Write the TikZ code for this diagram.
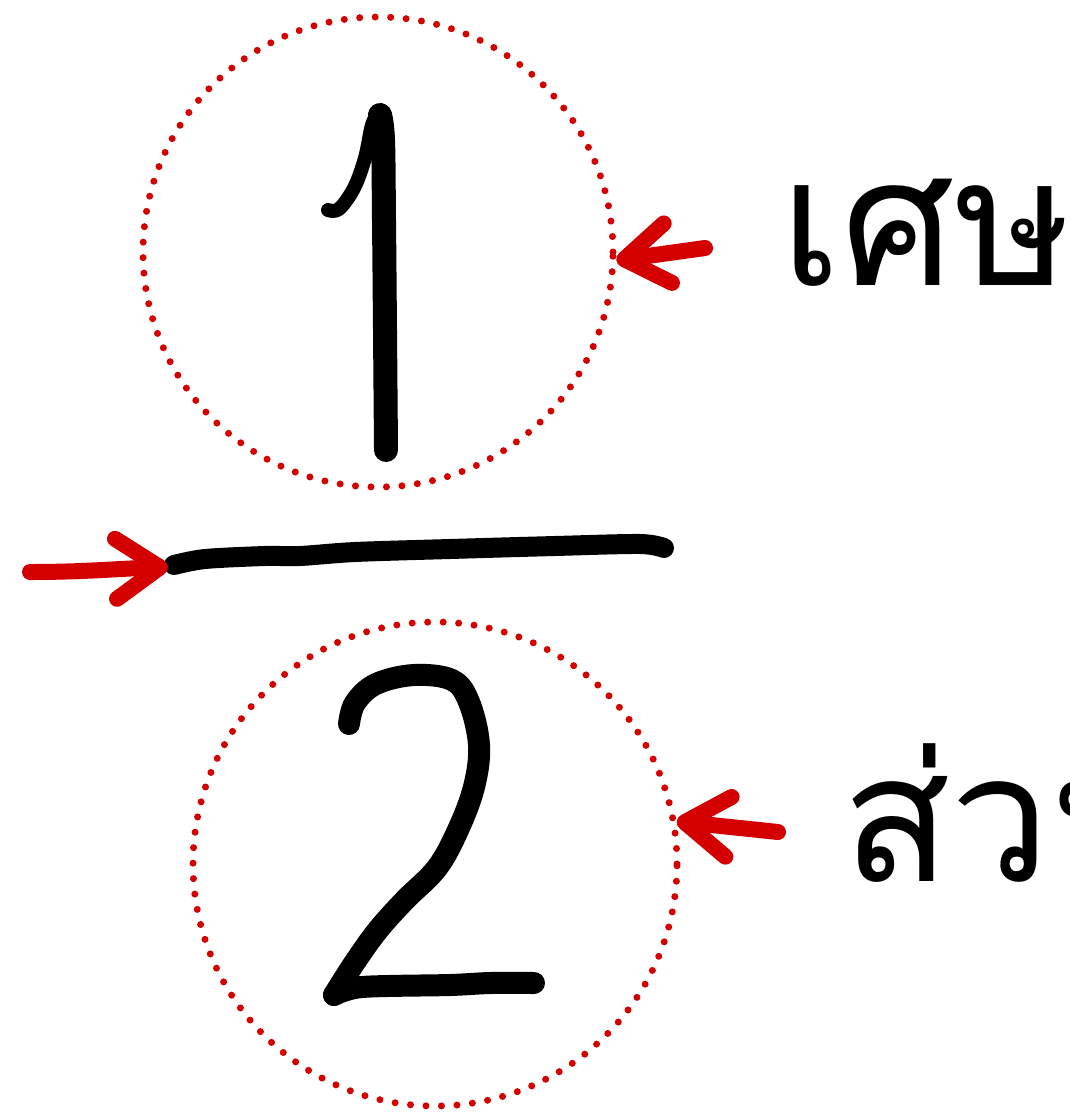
\documentclass[tikz,border=0pt]{standalone}
\usepackage{fontspec}
\newfontfamily\thaifont[Script=Thai]{Loma}
\usetikzlibrary{arrows.meta}
\definecolor{bg}{HTML}{FFFFFF}
\definecolor{ink}{HTML}{000000}
\definecolor{mark}{HTML}{D40000}

\begin{document}
\begin{tikzpicture}[x=1pt,y=-1pt,
  pen/.style={draw=ink,line width=22pt,line cap=round,line join=round},
  ring/.style={circle,draw=mark,line width=7pt,line cap=round,dash pattern=on 0pt off 15.5pt,inner sep=0pt},
  pointer/.style={draw=mark,line width=16pt,line cap=round,line join=round,-{Straight Barb[round,length=44pt,width=60pt]}},
  thailbl/.style={font=\thaifont\fontsize{178}{178}\selectfont,text=ink,inner sep=0pt,anchor=base west}]
  \useasboundingbox (0,0) rectangle (1070,1112);
  \clip (0,0) rectangle (1070,1112);
  \fill[bg] (0,0) rectangle (1070,1112);

  % ===== rings =====
  \node[ring,minimum size=470pt] (numring) at (378,252) {};
  \node[ring,minimum size=484pt] (denring) at (435,864) {};

  % ===== hand-drawn 1, bar and 2 =====
  \draw[pen,line width=14pt] plot[smooth,tension=0.6] coordinates {(328,210) (339,209) (354,188) (365,158) (372,125) (379,112)};
  \draw[pen,line width=24pt] plot[smooth,tension=0.6] coordinates {(380,115) (383,140) (384,220) (385,330) (386,450)};
  \draw[pen,line width=20pt] plot[smooth,tension=0.5] coordinates {(174,565) (205,559) (265,556) (300,556) (355,552) (450,549) (555,546) (640,544) (664,548)};
  \coordinate (barstart) at (168,567);
  \draw[pen] plot[smooth,tension=0.6] coordinates {(349,724) (355,703) (376,684) (414,675) (452,680) (469,702) (479,745) (474,787) (458,830) (437,868) (405,900) (378,930) (355,962) (334,995)};
  \draw[pen] plot[smooth,tension=0.5] coordinates {(334,995) (362,987) (450,985) (490,983) (534,983)};

  % ===== labels =====
  \node[thailbl] (numlbl) at (780,285) {เศษ};
  \node[thailbl] (denlbl) at (842,881) {ส่วน};

  % ===== pointers =====
  \coordinate (numtail) at (705,248);
  \coordinate (bartail) at (30,572);
  \coordinate (dentail) at (778,832);
  \draw[pointer] (numtail) -- (numring.-2);
  \draw[pointer] (bartail) to[out=0,in=182] (barstart);
  \draw[pointer] (dentail) -- (denring.10);
\end{tikzpicture}
\end{document}
